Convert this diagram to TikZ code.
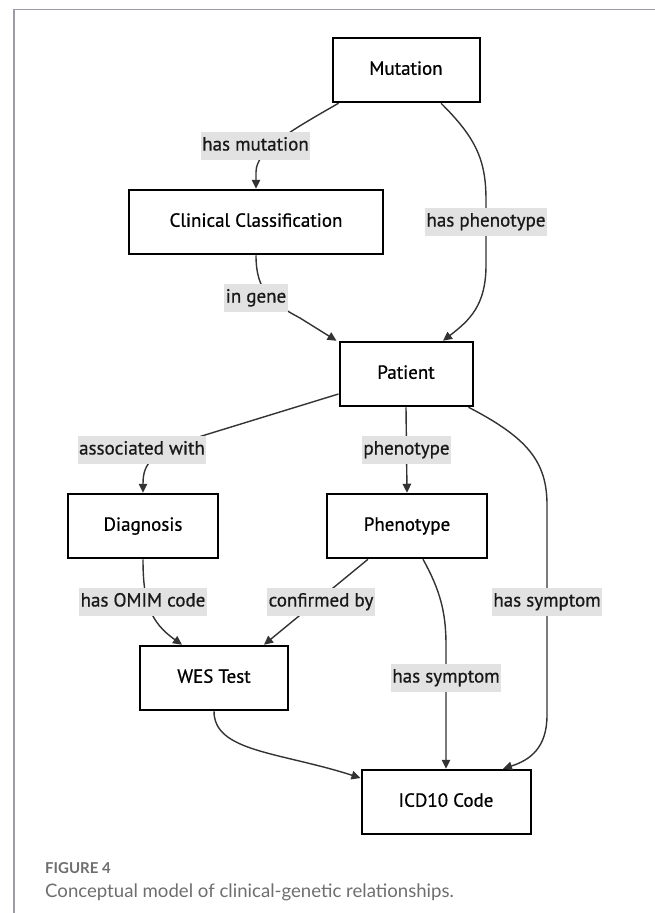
\documentclass[tikz,border=0pt]{standalone}
\usepackage{fontspec}
\setmainfont{PT Sans}
\newfontfamily\diagfont{PT Sans}[FakeBold=0.7]
\newfontfamily\capfont{Lato}
\usepackage{tikz}
\usetikzlibrary{arrows.meta, positioning}
\definecolor{linkgray}{HTML}{333333}
\definecolor{tagfill}{HTML}{E2E2E2}
\definecolor{framegray}{HTML}{9D9DA5}
\definecolor{capgray}{HTML}{6E6E6E}
\tikzset{
  entity/.style={rectangle, draw=black, line width=2pt, fill=white,
                 minimum height=64.5pt, inner sep=0pt,
                 text height=13.5pt, text depth=4pt,
                 font=\diagfont\fontsize{19}{22}\selectfont},
  link/.style={-{Triangle[length=9pt, width=8.5pt]}, line width=1.4pt, color=linkgray},
  tag/.style={fill=tagfill, inner xsep=1.5pt, inner ysep=5pt,
              text height=13.5pt, text depth=4.5pt, text=black!90,
              font=\diagfont\fontsize{19}{22}\selectfont},
}

\begin{document}
\begin{tikzpicture}[x=1pt, y=-1pt]
  \useasboundingbox (0,0) rectangle (655,913);

  % Page frame
  \draw[framegray, line width=1.3pt] (14,913) -- (14,9.5) -- (655,9.5);

  % Genetic side (top)
  \node[entity, minimum width=147pt] (mut) at (406,70)  {Mutation};
  \node[entity, minimum width=254pt] (cls) at (256,222) {Clinical Classification};
  \node[entity, minimum width=133pt] (pat) at (406,374) {Patient};

  % Clinical side (bottom)
  \node[entity, minimum width=150pt] (dia) at (143,526) {Diagnosis};
  \node[entity, minimum width=160pt] (phe) at (407,526) {Phenotype};
  \node[entity, minimum width=148pt] (wes) at (214,678) {WES Test};
  \node[entity, minimum width=169pt] (icd) at (446,802) {ICD10 Code};

  % Links into Patient
  \draw[link] ([xshift=7pt]mut.south west) .. controls (292,130) and (256,150) .. (256,172)
    -- (cls.north) node[tag] at (255.5,146) {has mutation};
  \draw[link] ([xshift=35pt]mut.south) .. controls (476,138) and (486,160) .. (486,200)
    -- (486,265) .. controls (486,305) and (470,320) .. ([xshift=37pt]pat.north)
    node[tag] at (486,222) {has phenotype};
  \draw[link] (cls.south) .. controls (256,292) and (272,303) .. (300,318)
    -- ([xshift=-2pt]pat.north west) node[tag] at (256,298) {in gene};

  % Links out of Patient
  \draw[link] ([yshift=-20pt]pat.west) -- (205,435) .. controls (152,452) and (143,462) .. (dia.north)
    node[tag] at (142,450) {associated with};
  \draw[link] (pat.south) -- node[tag]{phenotype} (phe.north);
  \draw[link] ([xshift=-5pt]pat.south east) .. controls (528,438) and (547,462) .. (547,505)
    -- (547,715) .. controls (547,748) and (530,760) .. ([xshift=57pt]icd.north)
    node[tag] at (547,602) {has symptom};

  % Links to WES Test and ICD10 Code
  \draw[link] (dia.south) .. controls (143,602) and (150,622) .. ([xshift=-32pt]wes.north)
    node[tag] at (143,602) {has OMIM code};
  \draw[link] ([xshift=-39pt]phe.south) -- ([xshift=50pt]wes.north)
    node[tag] at (321,602) {confirmed by};
  \draw[link] ([xshift=16pt]phe.south) .. controls (440,590) and (446,612) .. (446,645)
    -- (icd.north) node[tag] at (446,678) {has symptom};
  \draw[link] (wes.south) .. controls (214,752) and (280,752) .. ([yshift=24pt]icd.west);

  % Caption
  \node[anchor=base west, inner sep=0pt, text=capgray,
        font=\capfont\bfseries\fontsize{15}{18}\selectfont] (fignum) at (45,873) {FIGURE 4};
  \node[anchor=base west, inner sep=0pt, text=capgray,
        font=\capfont\fontsize{18.6}{22}\selectfont] (figcap) at (45,897)
    {Conceptual model of clinical-genetic relationships.};
\end{tikzpicture}
\end{document}
